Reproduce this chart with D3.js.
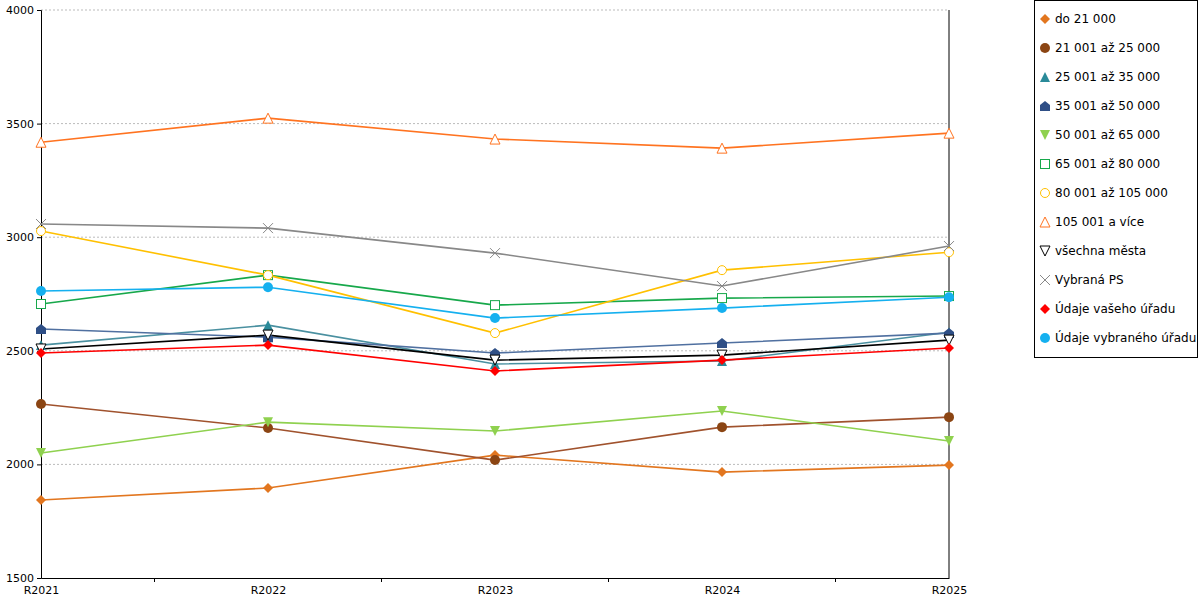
<!DOCTYPE html>
<html><head><meta charset="utf-8">
<script src="https://cdn.jsdelivr.net/npm/d3@7"></script>
<style>body{margin:0;background:#fff;font-family:"DejaVu Sans",sans-serif}</style>
</head><body><svg id="c" width="1200" height="600"></svg>
<script>
const categories=["R2021","R2022","R2023","R2024","R2025"];
const yTicks=[1500,2000,2500,3000,3500,4000];
const names=["do 21 000","21 001 až 25 000","25 001 až 35 000","35 001 až 50 000","50 001 až 65 000","65 001 až 80 000","80 001 až 105 000","105 001 a více","všechna města","Vybraná PS","Údaje vašeho úřadu","Údaje vybraného úřadu"];
const v0=[1843,1896,2041,1966,1997];
const v1=[2266,2160,2019,2164,2208];
const v2=[2525,2613,2442,2455,2582];
const v3=[2596,2560,2490,2534,2578];
const v4=[2050,2186,2147,2235,2103];
const v5=[2706,2833,2701,2732,2741];
const v6=[3027,2833,2578,2855,2934];
const v7=[3418,3524,3432,3392,3458];
const v8=[2508,2569,2459,2481,2547];
const v9=[3058,3040,2930,2785,2961];
const v10=[2490,2525,2411,2459,2512];
const v11=[2763,2780,2644,2688,2736];
const values=[v0,v1,v2,v3,v4,v5,v6,v7,v8,v9,v10,v11];
const colors=["#e2761f","#8b4513","#2a8a99","#2f4f86","#8fd14f","#17a84b","#ffc000","#ff7320","#000000","#888888","#ff0000","#15b0ef"];
const lineColors=["#e2761f","#a0522d","#4a90a0","#5070a0","#8fd14f","#17a84b","#ffc000","#ff7320","#000000","#888888","#ff0000","#15b0ef"];
const markers=["diamond","circle","triangle","house","tridown","square","ocircle","otri","otridown","x","diamond","circle"];

const svg=d3.select("#c");
const x=d3.scalePoint().domain(categories).range([41,949]);
const y=d3.scaleLinear().domain([1500,4000]).range([578,10]);
const g=svg.append("g");
yTicks.forEach(t=>{ if(t>1500) g.append("line").attr("x1",41).attr("x2",949).attr("y1",y(t)).attr("y2",y(t)).attr("stroke","#bbb").attr("stroke-dasharray","2,2");});
g.append("line").attr("x1",949).attr("x2",949).attr("y1",10).attr("y2",578).attr("stroke","#000");
const ya=svg.append("g").attr("transform","translate(41,0)").call(d3.axisLeft(y).tickValues(yTicks).tickSize(4).tickFormat(d3.format("d")));
const xa=svg.append("g").attr("transform","translate(0,578)").call(d3.axisBottom(x).tickSize(0).tickPadding(8));
const step=x.step();
categories.slice(0,-1).forEach(c=>svg.append("line").attr("x1",x(c)+step/2).attr("x2",x(c)+step/2).attr("y1",578).attr("y2",582).attr("stroke","#000"));
svg.selectAll(".domain").attr("stroke","#000");
svg.selectAll(".tick text").attr("font-family","DejaVu Sans").attr("font-size",11).attr("fill","#000");
svg.selectAll(".tick line").attr("stroke","#000");

function marker(sel,type,c,cx,cy){
  const s=5;
  if(type=="diamond") sel.append("path").attr("d",`M${cx},${cy-s}L${cx+s},${cy}L${cx},${cy+s}L${cx-s},${cy}Z`).attr("fill",c);
  else if(type=="circle") sel.append("circle").attr("cx",cx).attr("cy",cy).attr("r",5).attr("fill",c);
  else if(type=="ocircle") sel.append("circle").attr("cx",cx).attr("cy",cy).attr("r",4.5).attr("fill","#fff").attr("stroke",c);
  else if(type=="triangle") sel.append("path").attr("d",`M${cx},${cy-s}L${cx+s},${cy+s}L${cx-s},${cy+s}Z`).attr("fill",c);
  else if(type=="otri") sel.append("path").attr("d",`M${cx},${cy-s}L${cx+s},${cy+s}L${cx-s},${cy+s}Z`).attr("fill","#fff").attr("stroke",c);
  else if(type=="tridown") sel.append("path").attr("d",`M${cx-s},${cy-s}L${cx+s},${cy-s}L${cx},${cy+s}Z`).attr("fill",c);
  else if(type=="otridown") sel.append("path").attr("d",`M${cx-s},${cy-s}L${cx+s},${cy-s}L${cx},${cy+s}Z`).attr("fill","#fff").attr("stroke",c);
  else if(type=="house") sel.append("path").attr("d",`M${cx},${cy-s}L${cx+s},${cy-1}L${cx+s},${cy+s}L${cx-s},${cy+s}L${cx-s},${cy-1}Z`).attr("fill",c);
  else if(type=="square") sel.append("rect").attr("x",cx-4.5).attr("y",cy-4.5).attr("width",9).attr("height",9).attr("fill","#fff").attr("stroke",c);
  else if(type=="x") sel.append("path").attr("d",`M${cx-s},${cy-s}L${cx+s},${cy+s}M${cx+s},${cy-s}L${cx-s},${cy+s}`).attr("stroke",c).attr("fill","none");
}
const line=d3.line().x((d,i)=>x(categories[i])).y(d=>y(d));
values.forEach((vals,k)=>{
  svg.append("path").datum(vals).attr("d",line).attr("fill","none").attr("stroke",lineColors[k]).attr("stroke-width",1.6);
});
values.forEach((vals,k)=>{
  const mg=svg.append("g");
  vals.forEach((v,i)=>marker(mg,markers[k],colors[k],x(categories[i]),y(v)));
});
// legend
const lg=svg.append("g");
lg.append("rect").attr("x",1034.5).attr("y",0.5).attr("width",163).attr("height",357).attr("fill","#fff").attr("stroke","#000");
names.forEach((n,k)=>{
  const yy=19+k*29;
  marker(lg,markers[k],colors[k],1045,yy);
  lg.append("text").attr("x",1055).attr("y",yy+4).attr("font-size",12).attr("font-family","DejaVu Sans").text(n);
});
</script></body></html>
